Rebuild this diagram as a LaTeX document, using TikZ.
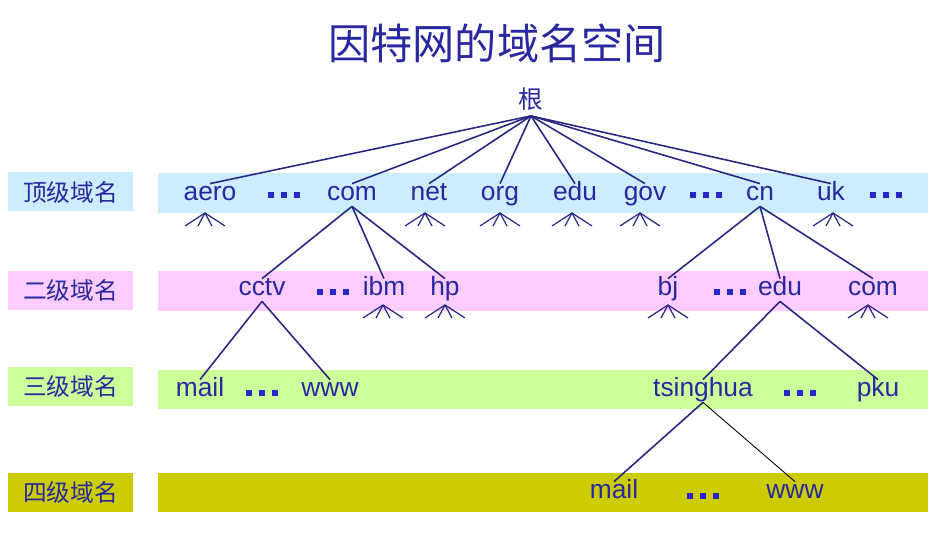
\documentclass[tikz,border=0pt]{standalone}
\usepackage{fontspec}
\setmainfont{Liberation Sans}
\newfontfamily\cjk{Noto Sans CJK SC}
\begin{document}
\begin{tikzpicture}[x=0.02cm,y=-0.02cm,
  txt/.style={text=tc,font=\fontsize{15}{15}\selectfont,inner sep=1pt,text height=1.55ex,text depth=0.45ex},
  lab/.style={text=tc,font=\cjk\fontsize{13.5}{14}\selectfont,minimum width=2.5cm,minimum height=0.78cm,inner sep=0pt},
  ln/.style={draw=lc,line width=0.9pt},
  dt/.style={fill=dc,minimum size=0.12cm,inner sep=0pt,draw=none}]
\definecolor{tc}{RGB}{40,40,160}
\definecolor{lc}{RGB}{40,40,130}
\definecolor{dc}{RGB}{40,40,200}
\definecolor{b1}{RGB}{204,236,255}
\definecolor{b2}{RGB}{255,204,255}
\definecolor{b3}{RGB}{204,255,153}
\definecolor{b4}{RGB}{204,204,0}
\useasboundingbox (0,0) rectangle (951,553);
% bands
\fill[b1] (158,173) rectangle (928,213);
\fill[b2] (158,271) rectangle (928,311);
\fill[b3] (158,370) rectangle (928,409);
\fill[b4] (158,473) rectangle (928,512);
\node[lab,fill=b1] (l1) at (70.5,192) {顶级域名};
\node[lab,fill=b2] (l2) at (70.5,290.5) {二级域名};
\node[lab,fill=b3] (l3) at (70.5,386.5) {三级域名};
\node[lab,fill=b4] (l4) at (70.5,492.5) {四级域名};
\node[text=tc,font=\cjk\fontsize{24}{24}\selectfont] (title) at (497,43) {因特网的域名空间};
\node[text=tc,font=\cjk\fontsize{14}{14}\selectfont,inner sep=3pt] (root) at (531,99) {根};
% top level
\foreach \n/\x/\t in {aero/210/aero,com/352/com,net/429/net,org/500/org,edu/575/edu,gov/645/gov,cn/760/cn,uk/831/uk}
  \node[txt] (\n) at (\x,195) {\t};
\foreach \n in {aero,com,net,org,edu,gov,cn,uk} \draw[ln] (root.south) -- (\n.north);
\foreach \x in {284,706,886} \foreach \d in {-13,0,13} \node[dt] at (\x+\d,195) {};
% second level
\foreach \n/\x/\t in {cctv/262/cctv,ibm/384/ibm,hp/445/hp,bj/668/bj,edu2/780/edu,com2/873/com}
  \node[txt] (\n) at (\x,290) {\t};
\foreach \x in {333,730} \foreach \d in {-13,0,13} \node[dt] at (\x+\d,292) {};
\foreach \n in {cctv,ibm,hp} \draw[ln] (com.south) -- (\n.north);
\foreach \n in {bj,edu2,com2} \draw[ln] (cn.south) -- (\n.north);
% third level
\foreach \n/\x/\t in {mail/200/mail,www/330/www,tsing/703/tsinghua,pku/878/pku}
  \node[txt] (\n) at (\x,391) {\t};
\foreach \x in {262,800} \foreach \d in {-13,0,13} \node[dt] at (\x+\d,393) {};
\draw[ln] (cctv.south) -- (mail.north);
\draw[ln] (cctv.south) -- (www.north);
\draw[ln] (edu2.south) -- (tsing.north);
\draw[ln] (edu2.south) -- (pku.north);
% fourth level
\node[txt] (mail2) at (614,493) {mail};
\node[txt] (www2) at (795,493) {www};
\foreach \d in {-13,0,13} \node[dt] at (703+\d,496) {};
\draw[ln] (tsing.south) -- (mail2.north);
\draw[draw=black,line width=0.5pt] (tsing.south) -- (www2.north);
% fans
\foreach \x/\y in {205/213,425/213,500/213,572/213,640/213,833/213,383/305,445/305,668/305,868/305}
  \foreach \d in {-20,-7,7,20} \draw[ln,line width=0.7pt] (\x,\y) -- (\x+\d,\y+13);
\end{tikzpicture}
\end{document}
